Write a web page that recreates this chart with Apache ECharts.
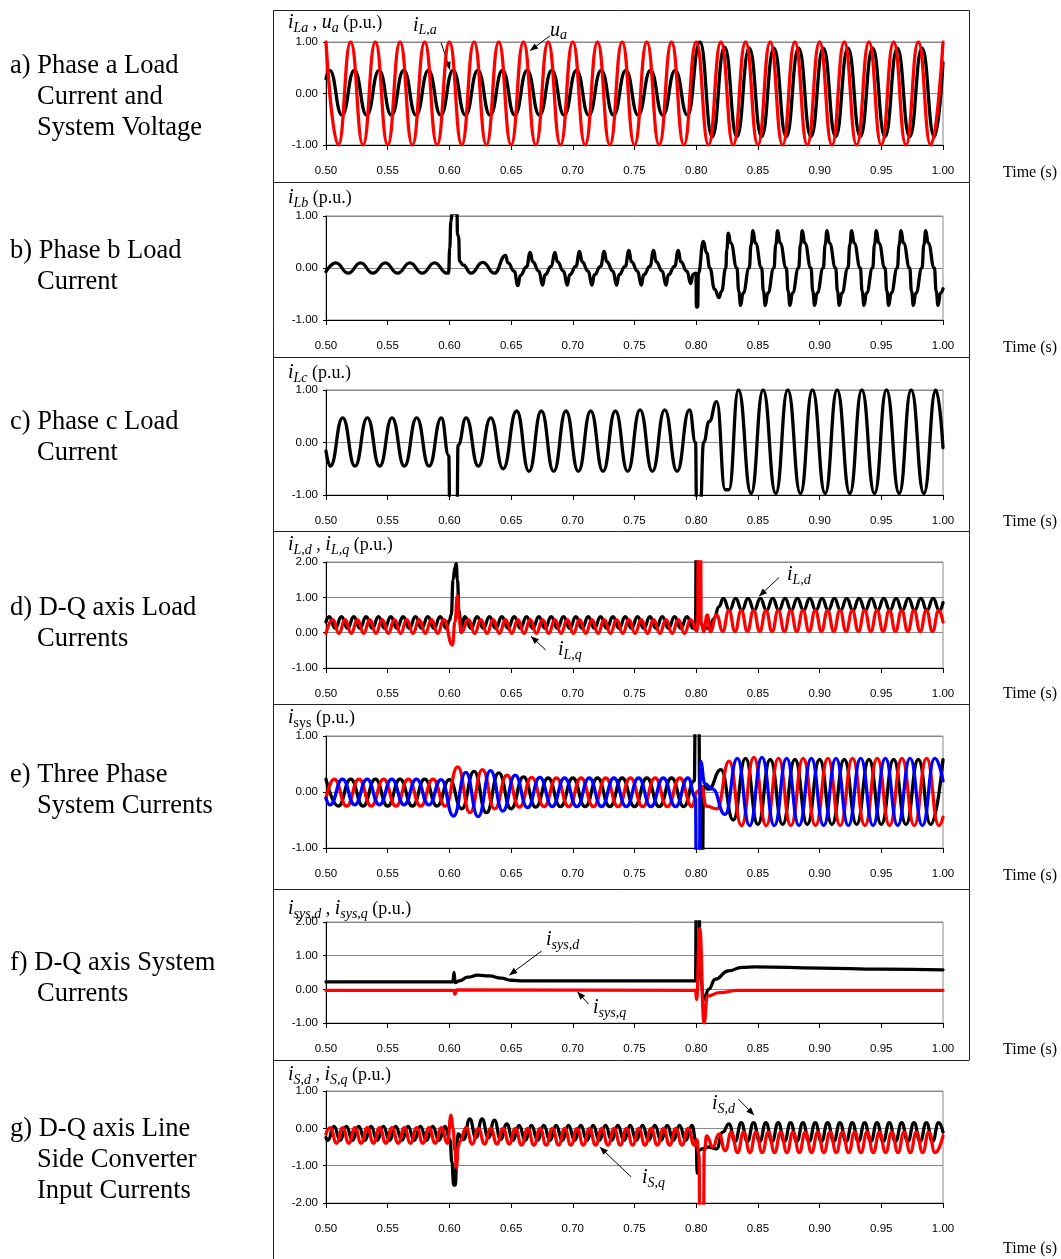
<!DOCTYPE html>
<html><head><meta charset="utf-8">
<script src="https://cdn.jsdelivr.net/npm/echarts@6/dist/echarts.min.js"></script>
<style>html,body{margin:0;padding:0;background:#fff}#c{width:1061px;height:1259px}</style>
</head><body><div id="c"></div>
<script>
// ---------- tick labels ----------
const timeTicks = [0.50,0.55,0.60,0.65,0.70,0.75,0.80,0.85,0.90,0.95,1.00];
const yTicksA = [-1,0,1];
const yTicksB = [-1,0,1];
const yTicksC = [-1,0,1];
const yTicksD = [-1,0,1,2];
const yTicksE = [-1,0,1];
const yTicksF = [-1,0,1,2];
const yTicksG = [-2,-1,0,1];

// ---------- data [time (s), value (p.u.)] ----------
// a) phase a load current (black) and system voltage (red)
const iLa = [[.50,.29],[.503,.45],[.513,-.42],[.523,.45],[.533,-.42],[.543,.45],[.553,-.42],[.563,.45],[.573,-.42],[.583,.45],[.593,-.42],[.603,.45],[.613,-.42],[.623,.45],[.633,-.42],[.643,.45],[.653,-.42],[.663,.45],[.673,-.42],[.683,.45],[.693,-.42],[.703,.45],[.713,-.42],[.723,.45],[.733,-.42],[.743,.45],[.753,-.42],[.763,.45],[.773,-.42],[.783,.45],[.793,-.42],[.803,1.0],[.813,-.84],[.823,.9],[.833,-.84],[.843,.88],[.853,-.84],[.863,.88],[.873,-.84],[.883,.88],[.893,-.84],[.903,.88],[.913,-.84],[.923,.88],[.933,-.84],[.943,.88],[.953,-.84],[.963,.88],[.973,-.84],[.983,.88],[.993,-.84],[1.00,.6]];
const uA = [[.50,1],[.51,-1],[.52,1],[.53,-1],[.54,1],[.55,-1],[.56,1],[.57,-1],[.58,1],[.59,-1],[.60,1],[.61,-1],[.62,1],[.63,-1],[.64,1],[.65,-1],[.66,1],[.67,-1],[.68,1],[.69,-1],[.70,1],[.71,-1],[.72,1],[.73,-1],[.74,1],[.75,-1],[.76,1],[.77,-1],[.78,1],[.79,-1],[.80,1],[.81,-1],[.82,1],[.83,-1],[.84,1],[.85,-1],[.86,1],[.87,-1],[.88,1],[.89,-1],[.90,1],[.91,-1],[.92,1],[.93,-1],[.94,1],[.95,-1],[.96,1],[.97,-1],[.98,1],[.99,-1],[1.00,1]];
// b) phase b load current
const iLb = [[.5,-.07],[.508,.1],[.518,-.1],[.528,.1],[.538,-.1],[.548,.1],[.558,-.1],[.568,.1],[.578,-.1],[.588,.1],[.598,-.1],[.5993,-.1],[.6003,.38],[.6012,.9],[.6022,1.05],[.6062,1.05],[.6065,.65],[.6075,.6],[.6082,.13],[.611,.06],[.6175,-.1],[.627,.11],[.6365,-.1],
[.6455,.24],[.6475,.1],[.6525,-.06],[.6555,-.34],[.6575,-.14],[.6625,.02],
[.6655,.3],[.6675,.12],[.6725,-.06],[.6755,-.33],[.6775,-.13],[.6825,.03],
[.6855,.3],[.6875,.12],[.6925,-.06],[.6955,-.33],[.6975,-.13],[.7025,.03],
[.7055,.32],[.7075,.12],[.7125,-.06],[.7155,-.33],[.7175,-.13],[.7225,.03],
[.7255,.32],[.7275,.12],[.7325,-.06],[.7355,-.33],[.7375,-.13],[.7425,.03],
[.7455,.34],[.7475,.12],[.7525,-.06],[.7555,-.33],[.7575,-.13],[.7625,.03],
[.7655,.34],[.7675,.12],[.7725,-.06],[.7755,-.33],[.7775,-.13],[.7825,.03],
[.7855,.34],[.7875,.12],[.7925,-.06],[.7955,-.3],[.7975,-.12],
[.7998,-.1],[.8002,-.75],[.8012,-.75],[.8018,-.1],
[.8058,.51],[.8085,.29],[.811,0],[.815,-.41],[.8185,-.57],[.8205,-.45],[.824,0],[.8248,.35],
[.826,.67],[.828,.48],[.833,0],[.8345,-.45],[.836,-.72],[.838,-.48],[.843,0],[.8445,.45],
[.846,.72],[.848,.48],[.853,0],[.8545,-.45],[.856,-.72],[.858,-.48],[.863,0],[.8645,.45],
[.866,.72],[.868,.48],[.873,0],[.8745,-.45],[.876,-.72],[.878,-.48],[.883,0],[.8845,.45],
[.886,.72],[.888,.48],[.893,0],[.8945,-.45],[.896,-.72],[.898,-.48],[.903,0],[.9045,.45],
[.906,.72],[.908,.48],[.913,0],[.9145,-.45],[.916,-.72],[.918,-.48],[.923,0],[.9245,.45],
[.926,.72],[.928,.48],[.933,0],[.9345,-.45],[.936,-.72],[.938,-.48],[.943,0],[.9445,.45],
[.946,.72],[.948,.48],[.953,0],[.9545,-.45],[.956,-.72],[.958,-.48],[.963,0],[.9645,.45],
[.966,.72],[.968,.48],[.973,0],[.9745,-.45],[.976,-.72],[.978,-.48],[.983,0],[.9845,.45],
[.986,.72],[.988,.48],[.993,0],[.9945,-.45],[.996,-.72],[.998,-.48],[1,-.4]];
// c) phase c load current
const iLc = [[.5,-.16],[.5035,-.45],[.5135,.47],[.5235,-.45],[.5335,.47],[.5435,-.45],[.5535,.47],[.5635,-.45],[.5735,.47],[.5835,-.45],[.5935,.47],[.5995,-.25],[.6003,-1.3],[.6062,-1.3],[.607,-.05],[.6135,.47],[.6235,-.45],[.6335,.47],[.6435,-.5],[.6545,.6],[.6645,-.55],[.6745,.6],[.6845,-.55],[.6945,.6],[.7045,-.55],[.7145,.6],[.7245,-.55],[.7345,.6],[.7445,-.55],[.7545,.62],[.7645,-.55],[.7745,.62],[.7845,-.55],[.7945,.62],[.7995,0],[.8003,-1.3],[.8032,-1.3],[.806,0],[.8105,.4],[.8166,.78],[.8235,-.9],[.8265,-.9],[.8342,1],[.8445,-.97],[.8542,1],[.8645,-.97],[.8742,1],[.8845,-.97],[.8942,1],[.9045,-.97],[.9142,1],[.9245,-.97],[.9342,1],[.9445,-.97],[.9542,1],[.9645,-.97],[.9742,1],[.9845,-.97],[.9942,1],[1,-.1]];
// d) d-q axis load currents
const iLd = [[.5,.3],[.5025,.45],[.5075,.12],[.5125,.45],[.5175,.12],[.5225,.45],[.5275,.12],[.5325,.45],[.5375,.12],[.5425,.45],[.5475,.12],[.5525,.45],[.5575,.12],[.5625,.45],[.5675,.12],[.5725,.45],[.5775,.12],[.5825,.45],[.5875,.12],[.5925,.45],[.5975,.12],
[.6,.35],[.6015,.5],[.603,1.5],[.6045,1.85],[.6055,1.95],[.6065,1.5],[.6078,.6],[.6095,.15],
[.6125,.45],[.6175,.12],[.6225,.45],[.6275,.12],[.6325,.45],[.6375,.12],[.6425,.45],[.6475,.12],[.6525,.45],[.6575,.12],[.6625,.45],[.6675,.12],[.6725,.45],[.6775,.12],[.6825,.45],[.6875,.12],[.6925,.45],[.6975,.12],[.7025,.45],[.7075,.12],[.7125,.45],[.7175,.12],[.7225,.45],[.7275,.12],[.7325,.45],[.7375,.12],[.7425,.45],[.7475,.12],[.7525,.45],[.7575,.12],[.7625,.45],[.7675,.12],[.7725,.45],[.7775,.12],[.7825,.45],[.7875,.12],[.7925,.45],[.7975,.12],
[.7995,.3],[.8,2.6],[.8008,2.6],[.8012,.6],[.805,.2],[.8101,.12],[.8145,.4],[.8183,.73],
[.822,.97],[.827,.63],[.832,.97],[.837,.63],[.842,.97],[.847,.63],[.852,.97],[.857,.63],[.862,.97],[.867,.63],[.872,.97],[.877,.63],[.882,.97],[.887,.63],[.892,.97],[.897,.63],[.902,.97],[.907,.63],[.912,.97],[.917,.63],[.922,.97],[.927,.63],[.932,.97],[.937,.63],[.942,.97],[.947,.63],[.952,.97],[.957,.63],[.962,.97],[.967,.63],[.972,.97],[.977,.63],[.982,.97],[.987,.63],[.992,.97],[.997,.63],[1,.85]];
const iLq = [[.5,-.02],[.5055,.37],[.5105,-.02],[.5155,.37],[.5205,-.02],[.5255,.37],[.5305,-.02],[.5355,.37],[.5405,-.02],[.5455,.37],[.5505,-.02],[.5555,.37],[.5605,-.02],[.5655,.37],[.5705,-.02],[.5755,.37],[.5805,-.02],[.5855,.37],[.5905,-.02],[.5955,.37],
[.6025,-.35],[.6045,.3],[.6065,1.05],[.608,.4],[.6095,0],
[.6155,.37],[.6205,-.02],[.6255,.37],[.6305,-.02],[.6355,.37],[.6405,-.02],[.6455,.37],[.6505,-.02],[.6555,.37],[.6605,-.02],[.6655,.37],[.6705,-.02],[.6755,.37],[.6805,-.02],[.6855,.37],[.6905,-.02],[.6955,.37],[.7005,-.02],[.7055,.37],[.7105,-.02],[.7155,.37],[.7205,-.02],[.7255,.37],[.7305,-.02],[.7355,.37],[.7405,-.02],[.7455,.37],[.7505,-.02],[.7555,.37],[.7605,-.02],[.7655,.37],[.7705,-.02],[.7755,.37],[.7805,-.02],[.7855,.37],[.7905,-.02],[.7955,.37],
[.8005,.05],[.8012,.1],[.8016,2.6],[.8036,2.6],[.804,.3],[.806,.03],[.809,.5],[.8115,.03],[.8165,.5],[.8215,.04],
[.8265,.63],[.8315,.04],[.8365,.63],[.8415,.04],[.8465,.63],[.8515,.04],[.8565,.63],[.8615,.04],[.8665,.63],[.8715,.04],[.8765,.63],[.8815,.04],[.8865,.63],[.8915,.04],[.8965,.63],[.9015,.04],[.9065,.63],[.9115,.04],[.9165,.63],[.9215,.04],[.9265,.63],[.9315,.04],[.9365,.63],[.9415,.04],[.9465,.63],[.9515,.04],[.9565,.63],[.9615,.04],[.9665,.63],[.9715,.04],[.9765,.63],[.9815,.04],[.9865,.63],[.9915,.04],[.9965,.63],[1,.3]];
// e) three phase system currents
const iSysA = [[.5,.23],[.51,-.25],[.52,.23],[.53,-.25],[.54,.23],[.55,-.25],[.56,.23],[.57,-.25],[.58,.23],[.59,-.25],[.6,.22],[.61,-.3],[.62,.37],[.63,-.37],[.64,.34],[.65,-.3],[.66,.27],[.67,-.27],[.68,.25],[.69,-.26],[.7,.25],[.71,-.26],[.72,.25],[.73,-.26],[.74,.25],[.75,-.26],[.76,.25],[.77,-.26],[.78,.25],[.79,-.26],[.7985,.2],[.7992,1.3],[.8022,1.3],[.8028,.1],[.8042,-1.3],[.8052,-1.3],[.8058,.1],[.81,.05],[.82,.4],[.83,-.5],[.84,.6],[.85,-.58],[.86,.58],[.87,-.58],[.88,.58],[.89,-.58],[.9,.58],[.91,-.58],[.92,.58],[.93,-.58],[.94,.58],[.95,-.58],[.96,.58],[.97,-.58],[.98,.58],[.99,-.58],[1,.58]];
const iSysB = [[.5,-.11],[.5067,.23],[.5167,-.25],[.5267,.23],[.5367,-.25],[.5467,.23],[.5567,-.25],[.5667,.23],[.5767,-.25],[.5867,.23],[.5967,-.25],[.6067,.45],[.6167,-.37],[.6267,.4],[.6367,-.3],[.6467,.3],[.6567,-.27],[.6667,.26],[.6767,-.26],[.6867,.25],[.6967,-.26],[.7067,.25],[.7167,-.26],[.7267,.25],[.7367,-.26],[.7467,.25],[.7567,-.26],[.7667,.25],[.7767,-.26],[.7867,.25],[.7967,-.26],[.8005,0],[.8045,.1],[.808,-.25],[.8167,-.3],[.8267,.55],[.8367,-.6],[.8467,.62],[.8567,-.6],[.8667,.6],[.8767,-.6],[.8867,.6],[.8967,-.6],[.9067,.6],[.9167,-.6],[.9267,.6],[.9367,-.6],[.9467,.6],[.9567,-.6],[.9667,.6],[.9767,-.6],[.9867,.6],[.9967,-.6],[1,-.45]];
const iSysC = [[.5,-.11],[.5033,-.23],[.5133,.23],[.5233,-.23],[.5333,.23],[.5433,-.23],[.5533,.23],[.5633,-.23],[.5733,.23],[.5833,-.23],[.5933,.22],[.6033,-.43],[.6133,.35],[.6233,-.44],[.6333,.38],[.6433,-.34],[.6533,.3],[.6633,-.28],[.6733,.26],[.6833,-.26],[.6933,.25],[.7033,-.26],[.7133,.25],[.7233,-.26],[.7333,.25],[.7433,-.26],[.7533,.25],[.7633,-.26],[.7733,.25],[.7833,-.26],[.7933,.25],[.7995,-.1],[.8,-1.3],[.8025,-1.3],[.8035,.55],[.807,.15],[.8133,.05],[.8233,-.4],[.8333,.6],[.8433,-.6],[.8533,.62],[.8633,-.6],[.8733,.6],[.8833,-.6],[.8933,.6],[.9033,-.6],[.9133,.6],[.9233,-.6],[.9333,.6],[.9433,-.6],[.9533,.6],[.9633,-.6],[.9733,.6],[.9833,-.6],[.9933,.6],[1,.2]];
// f) d-q axis system currents
const iSysD = [[.5,.22],[.6028,.22],[.6038,.5],[.6046,.2],[.608,.25],[.615,.36],[.623,.42],[.632,.4],[.642,.33],[.65,.27],[.66,.25],[.7,.25],[.75,.25],[.7995,.25],[.8,2.4],[.8025,2.4],[.803,.4],[.8065,-.3],[.81,0],[.8155,.3],[.826,.55],[.837,.65],[.848,.67],[.9,.63],[.95,.6],[1,.58]];
const iSysQ = [[.5,-.03],[.6035,-.03],[.6045,-.14],[.6058,-.02],[.7995,-.03],[.8003,-.3],[.8028,1.8],[.8064,-1.0],[.809,-.2],[.819,-.1],[.8335,-.03],[1,-.03]];
// g) d-q axis line side converter input currents
const iSd = [[.5,-.25],[.5015,-.32],[.5065,.05],[.5115,-.32],[.5165,.05],[.5215,-.32],[.5265,.05],[.5315,-.32],[.5365,.05],[.5415,-.32],[.5465,.05],[.5515,-.32],[.5565,.05],[.5615,-.32],[.5665,.05],[.5715,-.32],[.5765,.05],[.5815,-.32],[.5865,.05],[.5915,-.32],[.5965,.05],
[.6005,-.3],[.602,-.9],[.6035,-1.52],[.6048,-1.52],[.6058,-.9],[.607,-.15],[.6115,-.3],
[.6165,.25],[.6215,-.25],[.6265,.25],[.6315,-.25],[.6365,.22],[.6415,-.3],[.6465,.12],[.6515,-.32],[.6565,.08],[.6615,-.32],[.6665,.08],[.6715,-.32],[.6765,.08],[.6815,-.32],[.6865,.08],[.6915,-.32],[.6965,.08],[.7015,-.32],[.7065,.08],[.7115,-.32],[.7165,.08],[.7215,-.32],[.7265,.08],[.7315,-.32],[.7365,.08],[.7415,-.32],[.7465,.08],[.7515,-.32],[.7565,.08],[.7615,-.32],[.7665,.08],[.7715,-.32],[.7765,.08],[.7815,-.32],[.7865,.08],[.7915,-.32],[.7965,.08],
[.8,-.35],[.8008,-1.2],[.8016,-.6],[.805,-.55],[.81,-.5],[.8165,-.55],[.8215,-.1],
[.8265,.12],[.8315,-.35],[.8365,.15],[.8415,-.35],[.8465,.15],[.8515,-.35],[.8565,.15],[.8615,-.35],[.8665,.15],[.8715,-.35],[.8765,.15],[.8815,-.35],[.8865,.15],[.8915,-.35],[.8965,.15],[.9015,-.35],[.9065,.15],[.9115,-.35],[.9165,.15],[.9215,-.35],[.9265,.15],[.9315,-.35],[.9365,.15],[.9415,-.35],[.9465,.15],[.9515,-.35],[.9565,.15],[.9615,-.35],[.9665,.15],[.9715,-.35],[.9765,.15],[.9815,-.35],[.9865,.15],[.9915,-.35],[.9965,.15],[1,-.1]];
const iSq = [[.5,-.15],[.5035,.02],[.5085,-.4],[.5135,.02],[.5185,-.4],[.5235,.02],[.5285,-.4],[.5335,.02],[.5385,-.4],[.5435,.02],[.5485,-.4],[.5535,.02],[.5585,-.4],[.5635,.02],[.5685,-.4],[.5735,.02],[.5785,-.4],[.5835,.02],[.5885,-.4],[.5935,.02],[.5985,-.4],
[.6013,.35],[.603,0],[.6045,-.6],[.6057,-1.05],[.607,-.5],[.6085,-.35],
[.6135,.02],[.6185,-.42],[.6235,0],[.6285,-.42],[.6335,0],[.6385,-.42],[.6435,0],[.6485,-.42],[.6535,0],[.6585,-.45],[.6635,0],[.6685,-.45],[.6735,0],[.6785,-.45],[.6835,0],[.6885,-.45],[.6935,0],[.6985,-.45],[.7035,0],[.7085,-.45],[.7135,0],[.7185,-.45],[.7235,0],[.7285,-.45],[.7335,0],[.7385,-.45],[.7435,0],[.7485,-.45],[.7535,0],[.7585,-.45],[.7635,0],[.7685,-.45],[.7735,0],[.7785,-.45],[.7835,0],[.7885,-.45],[.7935,0],[.7985,-.45],
[.8005,-.3],[.8022,-.7],[.803,-2.4],[.806,-2.4],[.8065,-.6],[.8085,-.2],[.8135,-.5],[.8185,-.15],[.8235,-.6],
[.8285,-.1],[.8335,-.65],[.8385,-.1],[.8435,-.65],[.8485,-.1],[.8535,-.65],[.8585,-.1],[.8635,-.65],[.8685,-.1],[.8735,-.65],[.8785,-.1],[.8835,-.65],[.8885,-.1],[.8935,-.65],[.8985,-.1],[.9035,-.65],[.9085,-.1],[.9135,-.65],[.9185,-.1],[.9235,-.65],[.9285,-.1],[.9335,-.65],[.9385,-.1],[.9435,-.65],[.9485,-.1],[.9535,-.65],[.9585,-.1],[.9635,-.65],[.9685,-.1],[.9735,-.65],[.9785,-.1],[.9835,-.65],[.9885,-.1],[.9935,-.65],[1,-.2]];

// ---------- text ----------
const sideLabels = [
  ['a) Phase a Load','Current and','System Voltage'],
  ['b) Phase b Load','Current'],
  ['c) Phase c Load','Current'],
  ['d) D-Q axis Load','Currents'],
  ['e) Three Phase','System Currents'],
  ['f) D-Q axis System','Currents'],
  ['g) D-Q axis Line','Side Converter','Input Currents']
];
const panelTitles = [
  '{i|i}{s|La}{n| , }{i|u}{s|a}{n| (p.u.)}',
  '{i|i}{s|Lb}{n| (p.u.)}',
  '{i|i}{s|Lc}{n| (p.u.)}',
  '{i|i}{s|L,d}{n| , }{i|i}{s|L,q}{n| (p.u.)}',
  '{i|i}{u|sys}{n| (p.u.)}',
  '{i|i}{s|sys,d}{n| , }{i|i}{s|sys,q}{n| (p.u.)}',
  '{i|i}{s|S,d}{n| , }{i|i}{s|S,q}{n| (p.u.)}'
];
const xAxisTitle = 'Time (s)';
// annotations: panel, label, label anchor, arrow start, arrow end (data coordinates)
const annotations = [
  [0,'{i|i}{s|L,a}',[.5705,1.32],[.5932,.99],[.6005,.46]],
  [0,'{i|u}{s|a}',[.6815,1.22],[.6815,1.12],[.6653,.83]],
  [3,'{i|i}{s|L,q}',[.688,-.49],[.678,-.49],[.6661,-.1]],
  [3,'{i|i}{s|L,d}',[.8736,1.63],[.8671,1.56],[.8509,1.03]],
  [5,'{i|i}{s|sys,d}',[.6783,1.46],[.6747,1.14],[.6485,.42]],
  [5,'{i|i}{s|sys,q}',[.7164,-.55],[.7128,-.44],[.7037,-.07]],
  [6,'{i|i}{s|S,d}',[.8128,.65],[.8343,.78],[.847,.35]],
  [6,'{i|i}{s|S,q}',[.756,-1.33],[.7472,-1.3],[.7219,-.5]]
];

// ---------- layout & style ----------
const SERIF = '"Liberation Serif","Times New Roman",serif';
const SANS = '"Liberation Sans",Arial,sans-serif';
const BLACK = '#000', RED = '#ff0000', BLUE = '#0000ff';
const PLOT_LEFT = 326, PLOT_WIDTH = 617;
const panels = [
  {top:42,  height:103, ticks:yTicksA, lines:[[iLa,BLACK],[uA,RED]], titleY:23, sideY:66, timeY:173},
  {top:216, height:104, ticks:yTicksB, lines:[[iLb,BLACK]], titleY:198, sideY:251, timeY:348},
  {top:390, height:105, ticks:yTicksC, lines:[[iLc,BLACK]], titleY:373, sideY:422, timeY:522},
  {top:562, height:106, ticks:yTicksD, lines:[[iLd,BLACK],[iLq,RED]], titleY:545, sideY:608, timeY:694},
  {top:736, height:112, ticks:yTicksE, lines:[[iSysA,BLACK],[iSysB,RED],[iSysC,BLUE]], titleY:718, sideY:775, timeY:876},
  {top:922, height:101, ticks:yTicksF, lines:[[iSysD,BLACK],[iSysQ,RED]], titleY:909, sideY:963, timeY:1050},
  {top:1091,height:112, ticks:yTicksG, lines:[[iSd,BLACK],[iSq,RED]], titleY:1075, sideY:1129, timeY:1249}
];
const SEPARATORS = [182, 357, 531, 704, 889, 1060];
const BOX = {left:273.5, right:969.5, top:10.5, bottom:1259, rightBottom:1060};
const SIDE_LINE_GAP = 31;

const richText = {
  i: {fontFamily:SERIF, fontStyle:'italic', fontSize:20, lineHeight:24, fill:BLACK},
  s: {fontFamily:SERIF, fontStyle:'italic', fontSize:14, lineHeight:12, verticalAlign:'bottom', fill:BLACK},
  u: {fontFamily:SERIF, fontSize:14, lineHeight:12, verticalAlign:'bottom', fill:BLACK},
  n: {fontFamily:SERIF, fontSize:18, lineHeight:24, fill:BLACK}
};

const xStep = Math.round((timeTicks[1]-timeTicks[0])*1000)/1000;
const grids = [], xAxes = [], yAxes = [], series = [];
panels.forEach((p, gi) => {
  grids.push({left:PLOT_LEFT, width:PLOT_WIDTH, top:p.top, height:p.height, show:true, borderColor:'#8a8a8a', borderWidth:1, containLabel:false});
  xAxes.push({type:'value', gridIndex:gi, min:timeTicks[0], max:timeTicks[timeTicks.length-1], interval:xStep,
    axisLine:{onZero:false, lineStyle:{color:BLACK, width:1}},
    axisTick:{show:true, inside:false, length:5, lineStyle:{color:BLACK}},
    axisLabel:{margin:20, fontFamily:SANS, fontSize:11.5, color:BLACK, formatter:v=>v.toFixed(2)},
    splitLine:{show:false}});
  const yStep = p.ticks[1]-p.ticks[0];
  yAxes.push({type:'value', gridIndex:gi, min:p.ticks[0], max:p.ticks[p.ticks.length-1], interval:yStep,
    axisLine:{show:true, onZero:false, lineStyle:{color:BLACK, width:1}},
    axisTick:{show:true, length:3, lineStyle:{color:BLACK}},
    axisLabel:{margin:8, fontFamily:SANS, fontSize:11.5, color:BLACK, formatter:v=>v.toFixed(2)},
    splitLine:{show:true, lineStyle:{color:'#8a8a8a', width:1}}});
  p.lines.forEach(([data, color]) => {
    series.push({type:'line', xAxisIndex:gi, yAxisIndex:gi, data:data, showSymbol:false, symbol:'none',
      smooth:0.5, smoothMonotone:'x', clip:true, silent:true, animation:false,
      lineStyle:{color:color, width:3.3, join:'round', cap:'round'}});
  });
});

const chart = echarts.init(document.getElementById('c'), null, {renderer:'canvas'});
chart.setOption({animation:false, backgroundColor:'#fff', grid:grids, xAxis:xAxes, yAxis:yAxes, series:series});

// ---------- graphics: frame, labels, titles, annotations ----------
const gfx = [];
function hline(y, x1, x2){ gfx.push({type:'line', silent:true, shape:{x1:x1, y1:y+0.5, x2:x2, y2:y+0.5}, style:{stroke:'#222', lineWidth:1}}); }
function vline(x, y1, y2){ gfx.push({type:'line', silent:true, shape:{x1:x, y1:y1, x2:x, y2:y2}, style:{stroke:'#222', lineWidth:1}}); }
hline(BOX.top-0.5, BOX.left, BOX.right);
SEPARATORS.forEach(y => hline(y, BOX.left, BOX.right));
vline(BOX.left, BOX.top, BOX.bottom);
vline(BOX.right, BOX.top, BOX.rightBottom);

function addText(x, y, text, style){
  gfx.push({type:'text', silent:true, x:x, y:y, style:Object.assign({text:text, fill:BLACK, align:'left', verticalAlign:'middle', textAlign:'left', textVerticalAlign:'middle'}, style)});
}
panels.forEach((p, gi) => {
  sideLabels[gi].forEach((line, li) => addText(li === 0 ? 10 : 37, p.sideY + li*SIDE_LINE_GAP, line, {fontFamily:SERIF, fontSize:26.5}));
  addText(288, p.titleY, panelTitles[gi], {rich:richText, fontFamily:SERIF, fontSize:18});
  addText(1003, p.timeY, xAxisTitle, {fontFamily:SERIF, fontSize:16});
});
annotations.forEach(([gi, label, at, from, to]) => {
  const pa = chart.convertToPixel({gridIndex:gi}, at);
  const p0 = chart.convertToPixel({gridIndex:gi}, from);
  const p1 = chart.convertToPixel({gridIndex:gi}, to);
  addText(pa[0], pa[1], label, {rich:richText, fontFamily:SERIF, fontSize:18});
  gfx.push({type:'line', silent:true, shape:{x1:p0[0], y1:p0[1], x2:p1[0], y2:p1[1]}, style:{stroke:BLACK, lineWidth:1}});
  const dx = p1[0]-p0[0], dy = p1[1]-p0[1], L = Math.hypot(dx, dy) || 1;
  const ux = dx/L, uy = dy/L, hl = 8, hw = 3.2;
  const bx = p1[0]-ux*hl, by = p1[1]-uy*hl;
  gfx.push({type:'polygon', silent:true, shape:{points:[[p1[0],p1[1]],[bx-uy*hw, by+ux*hw],[bx+uy*hw, by-ux*hw]]}, style:{fill:BLACK}});
});
chart.setOption({graphic:{elements:gfx}});
</script>
</body></html>
